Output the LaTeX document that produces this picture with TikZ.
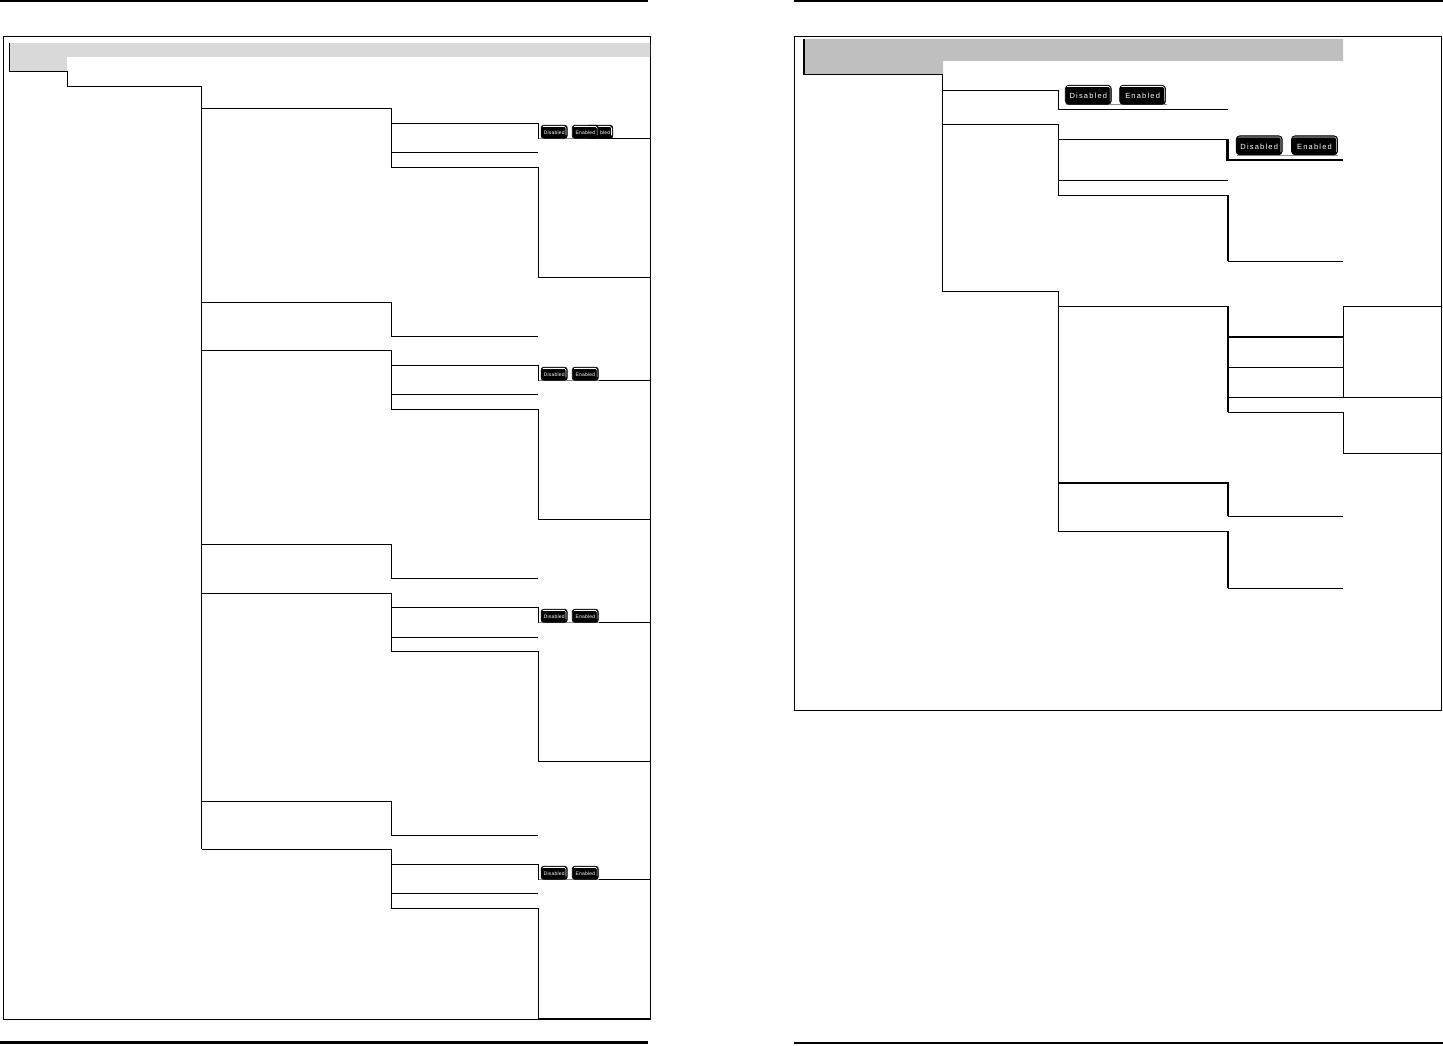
\documentclass[tikz,border=0pt]{standalone}
\usepackage{fontspec}
\newfontfamily\tabfont[LetterSpace=4]{Liberation Sans}
\newfontfamily\bigtabfont[LetterSpace=16]{Liberation Sans}
\usepackage{xcolor}
\usepackage{tikz}

\begin{document}
\begin{tikzpicture}[
    x=1pt, y=-1pt,
    branch/.style={draw=black, line width=1pt, line join=miter},
    heavy/.style={draw=black, line width=2.2pt, line join=miter},
    pagerule/.style={draw=black, line width=2.4pt},
    sheet/.style={draw=black, line width=1pt},
    seam/.style={draw=black!45, line width=0.7pt},
    tabkey/.style={rectangle, rounded corners=2.5pt, draw=black, fill=black, text=white, line width=0.7pt, inner sep=0pt,
        path picture={\draw[white, line width=0.6pt, rounded corners=1.5pt]
            ([xshift=1.5pt,yshift=-1.2pt]path picture bounding box.north west)
            -- ([xshift=-1.2pt,yshift=-1.2pt]path picture bounding box.north east)
            -- ([xshift=-1.2pt,yshift=3pt]path picture bounding box.south east);}},
    smalltab/.style={tabkey, minimum width=26pt, minimum height=13pt, text height=5.6pt, text depth=0pt, font=\tabfont\fontsize{5}{6}\selectfont},
    bigtab/.style={tabkey, rounded corners=3.5pt, minimum width=46pt, minimum height=19pt, text height=8pt, text depth=0pt, font=\bigtabfont\fontsize{7.5}{9}\selectfont}
]
    \useasboundingbox (0,0) rectangle (1443,1046);

    % Left page
    \draw[pagerule] (0,1) -- (648,1);
    \draw[pagerule] (0,1042.5) -- (648,1042.5);
    \draw[sheet] (3.4,36.6) rectangle (650.3,1019.3);
    \fill[black!15] (9.5,43) -- (650,43) -- (650,57) -- (67,57) -- (67,72) -- (9.5,72) -- cycle;

    \draw[branch] (9.5,43) -- (9.5,72) -- (67.7,72) -- (67.7,86.3) -- (201.7,86.3) -- (201.7,849.3);

    % Repeating branches of the left page
    \foreach \dy/\dtop in {0/0,242/242,484/485,741/741} {
        \draw[branch] (201.7,108.3+\dtop) -- (391.5,108.3+\dtop) -- (391.5,167.3+\dy) -- (538,167.3+\dy) -- (538,277.3+\dy) -- (650,277.3+\dy);
        \draw[branch] (391.5,123.3+\dy) -- (538,123.3+\dy) -- (538,138.3+\dy) -- (650,138.3+\dy);
        \draw[branch] (391.5,152.3+\dtop) -- (538,152.3+\dtop);
        \draw[seam] (539,138.3+\dy) -- (599,138.3+\dy);
        \node[smalltab] (off\dy) at (554.2,131.8+\dy) {Disabled};
    }
    \foreach \ytop/\ybot in {302.3/336.3,544.3/578.3,801.3/835.3} {
        \draw[branch] (201.7,\ytop) -- (391.5,\ytop) -- (391.5,\ybot) -- (538,\ybot);
    }

    % Tab hidden behind the first Enabled
    \node[smalltab] (offback) at (599.7,131.8) {\hspace*{11pt}bled};
    \foreach \dy in {0,242,484,741} {
        \node[smalltab] (on\dy) at (585.3,131.8+\dy) {Enabled};
    }

    % Right page
    \draw[pagerule] (794,1) -- (1443,1);
    \draw[pagerule] (794,1043) -- (1443,1043);
    \draw[sheet] (794.5,36.3) rectangle (1441.8,710);
    \fill[black!25] (803,39) -- (1343,39) -- (1343,61) -- (943,61) -- (943,75) -- (803,75) -- cycle;

    \draw[heavy] (804,39) -- (804,75);
    \draw[branch] (803,75) -- (942.8,75) -- (942.8,291.3) -- (1058.5,291.3) -- (1058.5,531) -- (1228,531);

    \draw[branch] (942.8,90.3) -- (1058.5,90.3) -- (1058.5,109.3) -- (1228,109.3);
    \draw[seam] (1066,104.7) -- (1167,104.7);
    \node[bigtab] (offtop) at (1088.3,94.8) {Disabled};
    \node[bigtab] (ontop) at (1142.6,94.8) {Enabled};

    \draw[branch] (942.8,124.3) -- (1058.5,124.3) -- (1058.5,195.3) -- (1228,195.3);
    \draw[branch] (1058.5,139.3) -- (1227.5,139.3);
    \draw[heavy] (1227.5,139.3) -- (1227.5,160) -- (1343,160);
    \draw[branch] (1058.5,180.3) -- (1228,180.3);
    \draw[heavy] (1228,195.3) -- (1228,261.3);
    \draw[branch] (1228,261.3) -- (1343,261.3);
    \draw[seam] (1237,155) -- (1338,155);
    \node[bigtab] (offmid) at (1259.2,145.3) {Disabled};
    \node[bigtab] (onmid) at (1314.5,145.3) {Enabled};

    % Lower block of the right page
    \draw[branch] (1058.5,306) -- (1228,306);
    \draw[heavy] (1228.3,306) -- (1228.3,412.3);
    \draw[heavy] (1228,336.7) -- (1343.3,336.7);
    \draw[branch] (1228,367.3) -- (1343.3,367.3);
    \draw[branch] (1228,397.3) -- (1441,397.3);
    \draw[branch] (1228,412.3) -- (1343.3,412.3) -- (1343.3,453.3) -- (1441,453.3);
    \draw[branch] (1343.3,397.3) -- (1343.3,306) -- (1441,306);

    \draw[heavy] (1058.5,483.3) -- (1228.3,483.3) -- (1228.3,516.3);
    \draw[branch] (1228,516.3) -- (1343,516.3);
    \draw[heavy] (1228.3,531) -- (1228.3,588.3);
    \draw[branch] (1228,588.3) -- (1343,588.3);
\end{tikzpicture}
\end{document}
